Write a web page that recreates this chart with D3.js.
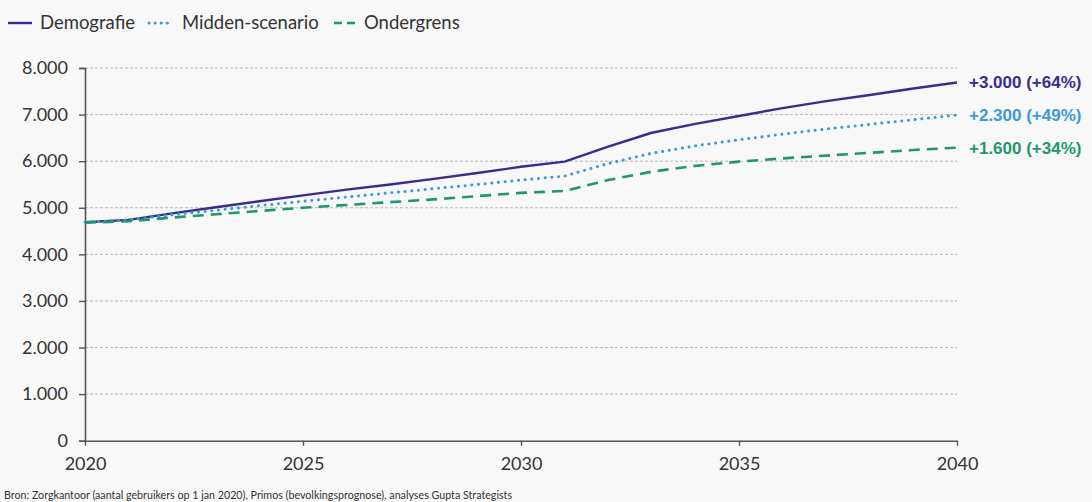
<!DOCTYPE html>
<html>
<head>
<meta charset="utf-8">
<script src="https://cdn.jsdelivr.net/npm/d3@7/dist/d3.min.js"></script>
<style>
  html, body { margin: 0; padding: 0; background: #f8f8f8; }
  svg { display: block; font-family: Lato, "Open Sans", sans-serif; }
</style>
</head>
<body>
<svg id="chart" width="1092" height="502"></svg>
<script>
// ---- data ----
const years = [2020, 2021, 2022, 2023, 2024, 2025, 2026, 2027, 2028, 2029, 2030,
               2031, 2032, 2033, 2034, 2035, 2036, 2037, 2038, 2039, 2040];
const demografie = [4690, 4740, 4880, 5010, 5140, 5265, 5390, 5500, 5620, 5745, 5880,
                    5990, 6310, 6610, 6800, 6970, 7140, 7290, 7420, 7560, 7690];
const midden = [4690, 4740, 4850, 4945, 5045, 5140, 5230, 5320, 5410, 5500, 5595,
                5680, 5950, 6170, 6330, 6460, 6580, 6690, 6790, 6890, 6990];
const ondergrens = [4680, 4710, 4790, 4860, 4930, 5000, 5060, 5120, 5180, 5250, 5320,
                    5360, 5595, 5775, 5900, 5990, 6060, 6120, 6180, 6240, 6290];
const seriesNames = ["Demografie", "Midden-scenario", "Ondergrens"];
const endLabels = ["+3.000 (+64%)", "+2.300 (+49%)", "+1.600 (+34%)"];
const xTicks = [2020, 2025, 2030, 2035, 2040];
const yTicks = [0, 1000, 2000, 3000, 4000, 5000, 6000, 7000, 8000];
const sourceText = "Bron: Zorgkantoor (aantal gebruikers op 1 jan 2020), Primos (bevolkingsprognose), analyses Gupta Strategists";

// ---- styles ----
const colors = ["#3a2c8c", "#3c9ad6", "#1f9670"];
const styles = [
  { width: 2.4, dash: null, cap: "butt" },
  { width: 3, dash: "0.1 6.6", cap: "round" },
  { width: 2.6, dash: "11 7", cap: "butt" }
];

const svg = d3.select("#chart");
const x = d3.scaleLinear().domain([2020, 2040]).range([85, 957]);
const y = d3.scaleLinear().domain([0, 8000]).range([440.7, 68]);
const fmt = v => d3.format(",")(v).replace(/,/g, ".");

// grid
svg.append("g")
  .selectAll("line")
  .data(yTicks.filter(d => d > 0))
  .join("line")
  .attr("x1", x(2020)).attr("x2", x(2040))
  .attr("y1", d => y(d)).attr("y2", d => y(d))
  .attr("stroke", "#b8b8b8")
  .attr("stroke-width", 1)
  .attr("stroke-dasharray", "3 2");

// y axis
const yAxis = svg.append("g")
  .attr("transform", `translate(${x(2020)},0)`)
  .call(d3.axisLeft(y).tickValues(yTicks).tickFormat(fmt).tickSize(6).tickPadding(11));
yAxis.select(".domain").attr("stroke", "#555").attr("stroke-width", 1.6);
yAxis.selectAll(".tick line").attr("stroke", "#555").attr("stroke-width", 1.4);
yAxis.selectAll(".tick text").attr("fill", "#333").style("font-size", "18px")
  .style("font-family", "Lato, sans-serif");

// x axis
const xAxis = svg.append("g")
  .attr("transform", `translate(0,${y(0)})`)
  .call(d3.axisBottom(x).tickValues(xTicks).tickFormat(d3.format("d")).tickSize(5).tickPadding(12).tickSizeOuter(0));
xAxis.select(".domain").attr("stroke", "#555").attr("stroke-width", 1.6);
xAxis.selectAll(".tick line").attr("stroke", "#555").attr("stroke-width", 1.4);
xAxis.selectAll(".tick text").attr("fill", "#333").style("font-size", "18px")
  .style("font-family", "Lato, sans-serif");

// lines
const allSeries = [demografie, midden, ondergrens];
const line = d3.line().x((d, i) => x(years[i])).y(d => y(d));
allSeries.forEach((s, k) => {
  svg.append("path")
    .datum(s)
    .attr("d", line)
    .attr("fill", "none")
    .attr("stroke", colors[k])
    .attr("stroke-width", styles[k].width)
    .attr("stroke-linecap", styles[k].cap)
    .attr("stroke-linejoin", "round")
    .attr("stroke-dasharray", styles[k].dash);
});

// end labels
allSeries.forEach((s, k) => {
  svg.append("text")
    .attr("x", 969)
    .attr("y", y(s[s.length - 1]))
    .attr("dy", "0.35em")
    .attr("fill", colors[k])
    .style("font-family", "'Liberation Sans', Arial, sans-serif")
    .style("font-size", "17px")
    .style("font-weight", "bold")
    .text(endLabels[k]);
});

// legend
const legendItems = [
  { sx: 8, ex: 32, tx: 40 },
  { sx: 149, ex: 173, tx: 182 },
  { sx: 334, ex: 356, tx: 364 }
];
const legendDash = [null, "0.1 6", "8 5"];
legendItems.forEach((it, k) => {
  svg.append("line")
    .attr("x1", it.sx).attr("x2", it.ex)
    .attr("y1", 23).attr("y2", 23)
    .attr("stroke", colors[k])
    .attr("stroke-width", styles[k].width)
    .attr("stroke-linecap", styles[k].cap)
    .attr("stroke-dasharray", legendDash[k]);
  svg.append("text")
    .attr("x", it.tx).attr("y", 23).attr("dy", "0.35em")
    .attr("fill", "#333")
    .style("font-size", "18.5px")
    .text(seriesNames[k]);
});

// source
svg.append("text")
  .attr("x", 4).attr("y", 495).attr("dy", "0.35em")
  .attr("fill", "#333")
  .style("font-size", "10.7px")
  .text(sourceText);
</script>
</body>
</html>
